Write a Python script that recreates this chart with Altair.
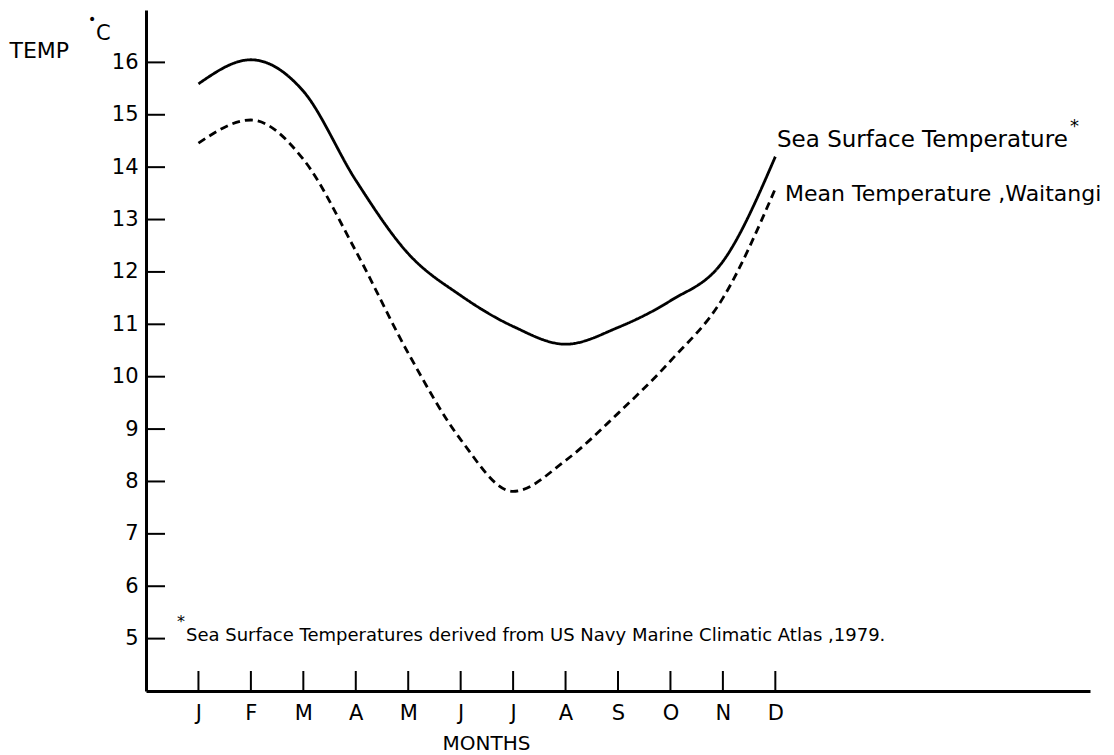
import altair as alt
import pandas as pd

# ---- data ----
months = ["J", "F", "M", "A", "M", "J", "J", "A", "S", "O", "N", "D"]
month_idx = list(range(1, 13))
sea_surface = [15.59, 16.05, 15.45, 13.75, 12.35, 11.55, 10.96, 10.62, 10.94, 11.45, 12.2, 14.2]
mean_waitangi = [14.46, 14.9, 14.15, 12.4, 10.45, 8.8, 7.81, 8.4, 9.3, 10.3, 11.5, 13.59]
y_ticks = [5, 6, 7, 8, 9, 10, 11, 12, 13, 14, 15, 16]
series_names = ["Sea Surface Temperature", "Mean Temperature, Waitangi"]

FONT = "DejaVu Sans"
W, H = 944, 681

rows = []
for i, m in enumerate(month_idx):
    rows.append({"m": m, "t": sea_surface[i], "series": series_names[0]})
    rows.append({"m": m, "t": mean_waitangi[i], "series": series_names[1]})
df = pd.DataFrame(rows)

xs = alt.Scale(domain=[0, 18], nice=False, zero=False)
ys = alt.Scale(domain=[4, 17], nice=False, zero=False)

label_expr = "[" + ",".join("'%s'" % m for m in months) + "][datum.value - 1]"

xaxis = alt.Axis(
    values=month_idx, labelExpr=label_expr, ticks=False, grid=False,
    domainColor="black", domainWidth=3, labelFont=FONT, labelFontSize=21,
    labelColor="black", labelPadding=11, title="MONTHS", titleFont=FONT,
    titleFontSize=20, titleFontWeight="normal", titleColor="black",
    titleX=340, titleY=58, titleBaseline="alphabetic", titleAlign="center",
)
yaxis = alt.Axis(
    values=y_ticks, ticks=False, grid=False, domainColor="black", domainWidth=3,
    labelFont=FONT, labelFontSize=21, labelColor="black", labelPadding=8,
    title="TEMP", titleFont=FONT, titleFontSize=22, titleFontWeight="normal",
    titleColor="black", titleAngle=0, titleAlign="left", titleBaseline="alphabetic",
    titleX=-137, titleY=47,
)

lines = alt.Chart(df).mark_line(interpolate="monotone", color="black", strokeWidth=2.8).encode(
    x=alt.X("m:Q", scale=xs, axis=xaxis),
    y=alt.Y("t:Q", scale=ys, axis=yaxis),
    strokeDash=alt.StrokeDash("series:N", scale=alt.Scale(domain=series_names, range=[[1, 0], [8, 5]]), legend=None),
    detail="series:N",
)

ytick_df = pd.DataFrame({"t": y_ticks})
yticks = alt.Chart(ytick_df).mark_rule(color="black", strokeWidth=2).encode(
    y=alt.Y("t:Q", scale=ys, axis=yaxis),
    x=alt.value(0), x2=alt.value(19),
)

xtick_df = pd.DataFrame({"m": month_idx})
xticks = alt.Chart(xtick_df).mark_rule(color="black", strokeWidth=2).encode(
    x=alt.X("m:Q", scale=xs, axis=xaxis),
    y=alt.value(H - 20), y2=alt.value(H),
)

def note(text, x, y, size, align="left", baseline="alphabetic"):
    return alt.Chart(pd.DataFrame({"label": [text]})).mark_text(
        font=FONT, fontSize=size, color="black", align=align, baseline=baseline
    ).encode(text="label:N", x=alt.value(x), y=alt.value(y))

notes = [
    note("Sea Surface Temperature", 631, 137, 23),
    note("*", 924, 122, 18),
    note("Mean Temperature ,Waitangi", 639, 191, 22),
    note("C", -50, 30, 21),
    note("•", -58, 14, 14),
    note("*", 31, 617, 16),
    note("Sea Surface Temperatures derived from US Navy Marine Climatic Atlas ,1979.", 40, 631, 18),
]

chart = alt.layer(lines, yticks, xticks, *notes).properties(
    width=W, height=H,
    padding={"left": 146, "top": 10, "right": 24, "bottom": 64},
    autosize=alt.AutoSizeParams(type="none"),
    background="white",
).configure_view(stroke=None)

chart.save("out.html", embed_options={"renderer": "svg", "actions": False})
